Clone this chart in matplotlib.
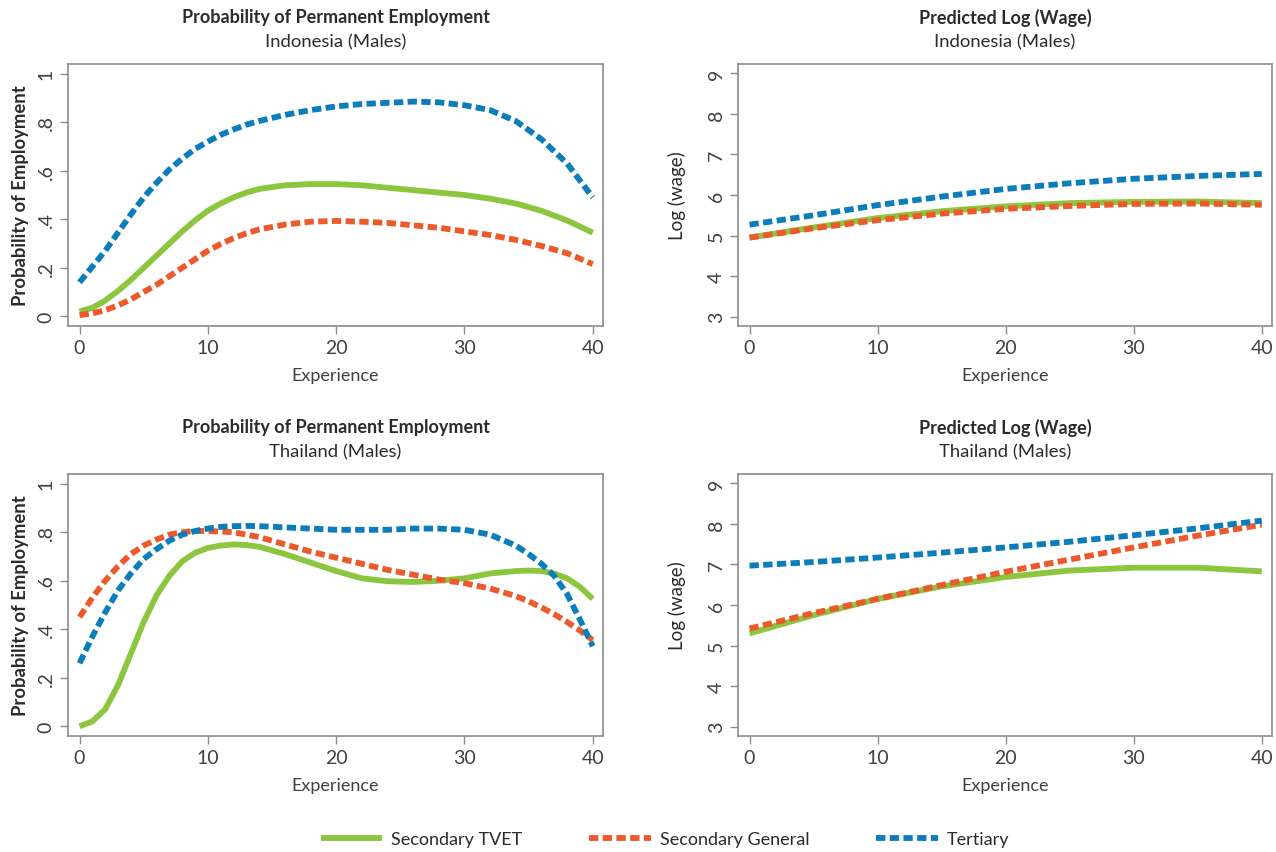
import numpy as np
import matplotlib.pyplot as plt

# ---- data ----
exp_id = [0, 1, 2, 3, 4, 5, 6, 7, 8, 9, 10, 11, 12, 13, 14, 16, 18, 20, 22, 24,
          26, 28, 30, 32, 34, 36, 38, 40]
id_prob_tvet = [0.02, 0.035, 0.065, 0.105, 0.15, 0.2, 0.25, 0.3, 0.35, 0.395, 0.435,
                0.465, 0.49, 0.51, 0.525, 0.54, 0.545, 0.545, 0.54, 0.53, 0.52,
                0.51, 0.50, 0.485, 0.465, 0.435, 0.395, 0.345]
id_prob_gen = [0.005, 0.012, 0.025, 0.045, 0.07, 0.1, 0.13, 0.165, 0.2, 0.235, 0.27,
               0.298, 0.322, 0.342, 0.358, 0.378, 0.39, 0.393, 0.39, 0.385, 0.375,
               0.365, 0.35, 0.335, 0.315, 0.29, 0.26, 0.215]
id_prob_ter = [0.14, 0.205, 0.27, 0.345, 0.42, 0.49, 0.55, 0.605, 0.65, 0.69, 0.72,
               0.748, 0.77, 0.79, 0.805, 0.83, 0.85, 0.865, 0.875, 0.88, 0.885,
               0.882, 0.87, 0.85, 0.805, 0.73, 0.63, 0.49]

exp_w = [0, 5, 10, 15, 20, 25, 30, 35, 40]
id_wage_tvet = [4.95, 5.2, 5.43, 5.6, 5.72, 5.8, 5.83, 5.84, 5.8]
id_wage_gen = [4.95, 5.18, 5.38, 5.54, 5.66, 5.73, 5.78, 5.79, 5.76]
id_wage_ter = [5.27, 5.5, 5.75, 5.96, 6.15, 6.29, 6.4, 6.47, 6.52]

exp_th = [0, 1, 2, 3, 4, 5, 6, 7, 8, 9, 10, 11, 12, 13, 14, 16, 18, 20, 22, 24, 26, 28,
          30, 32, 34, 35, 36, 37, 38, 39, 40]
th_prob_tvet = [0.0, 0.02, 0.07, 0.17, 0.30, 0.43, 0.54, 0.62, 0.68, 0.715, 0.735,
                0.745, 0.75, 0.747, 0.74, 0.71, 0.675, 0.64, 0.61, 0.598, 0.595, 0.60,
                0.61, 0.63, 0.64, 0.642, 0.64, 0.63, 0.61, 0.575, 0.525]
th_prob_gen = [0.45, 0.53, 0.60, 0.66, 0.71, 0.745, 0.77, 0.79, 0.80, 0.805, 0.805,
               0.803, 0.80, 0.79, 0.78, 0.75, 0.72, 0.695, 0.67, 0.645, 0.625, 0.605,
               0.59, 0.568, 0.537, 0.515, 0.49, 0.462, 0.43, 0.395, 0.355]
th_prob_ter = [0.26, 0.37, 0.47, 0.56, 0.63, 0.69, 0.73, 0.765, 0.79, 0.805, 0.815,
               0.822, 0.825, 0.826, 0.825, 0.82, 0.815, 0.81, 0.81, 0.81, 0.815, 0.815,
               0.81, 0.79, 0.745, 0.71, 0.67, 0.62, 0.545, 0.44, 0.33]

th_wage_tvet = [5.3, 5.75, 6.15, 6.46, 6.69, 6.85, 6.92, 6.92, 6.83]
th_wage_gen = [5.42, 5.8, 6.15, 6.49, 6.82, 7.12, 7.42, 7.71, 7.98]
th_wage_ter = [6.97, 7.06, 7.17, 7.29, 7.42, 7.56, 7.72, 7.89, 8.08]

prob_ticks = [0, 0.2, 0.4, 0.6, 0.8, 1]
prob_labels = ["0", ".2", ".4", ".6", ".8", "1"]
wage_ticks = [3, 4, 5, 6, 7, 8, 9]
exp_ticks = [0, 10, 20, 30, 40]

GREEN = "#8cc63f"
RED = "#ec5a2c"
BLUE = "#0a7dba"
GREY = "#8c8c8c"
TEXT = "#2b2b2b"

plt.rcParams["font.family"] = ["Lato", "DejaVu Sans"]

fig = plt.figure(figsize=(12.76, 8.53), dpi=100)

W, H = 1276, 853


def make_axes(left, top, right, bottom):
    return fig.add_axes([left / W, 1 - bottom / H, (right - left) / W, (bottom - top) / H])


def style(ax, title, sub, ylabel, label_x):
    for sp in ax.spines.values():
        sp.set_color(GREY)
        sp.set_linewidth(1.2)
    ax.set_xticks(exp_ticks)
    ax.set_xlim(-0.9, 40.8)
    ax.tick_params(color=GREY, length=6, width=1)
    ax.tick_params(labelsize=14, labelcolor="#404040")
    for lab in ax.get_yticklabels():
        lab.set_rotation(90)
        lab.set_va("center")
    ax.set_xlabel("Experience", fontsize=13, color="#404040", labelpad=8)
    ax.set_ylabel(ylabel, fontsize=13.3 if "Probability" in ylabel else 13.5, color=TEXT,
                  fontweight="bold" if "Probability" in ylabel else "normal")
    ax.yaxis.set_label_coords(label_x, 0.5)
    ax.annotate(title, xy=(0.5, 1), xycoords="axes fraction", xytext=(0, 34),
                textcoords="offset points", ha="center", va="center",
                fontsize=13, fontweight="bold", color=TEXT)
    ax.annotate(sub, xy=(0.5, 1), xycoords="axes fraction", xytext=(0, 16),
                textcoords="offset points", ha="center", va="center",
                fontsize=13.3, color=TEXT)


def draw(ax, x, tvet, gen, ter):
    lw = 4.2
    ax.plot(x, tvet, color=GREEN, lw=lw, solid_capstyle="butt", solid_joinstyle="round",
            label="Secondary TVET")
    ax.plot(x, gen, color=RED, lw=lw, dashes=(1.6, 0.75), label="Secondary General")
    ax.plot(x, ter, color=BLUE, lw=lw, dashes=(1.6, 0.75), label="Tertiary")


# top left
ax1 = make_axes(68, 65, 603, 327)
draw(ax1, exp_id, id_prob_tvet, id_prob_gen, id_prob_ter)
ax1.set_yticks(prob_ticks, prob_labels)
ax1.set_ylim(-0.04, 1.04)
style(ax1, "Probability of Permanent Employment", "Indonesia (Males)",
      "Probability of Employment", -0.072)

# top right
ax2 = make_axes(738, 65, 1272, 327)
draw(ax2, exp_w, id_wage_tvet, id_wage_gen, id_wage_ter)
ax2.set_yticks(wage_ticks)
ax2.set_ylim(2.77, 9.23)
style(ax2, "Predicted Log (Wage)", "Indonesia (Males)", "Log (wage)", -0.097)

# bottom left
ax3 = make_axes(68, 475, 603, 737)
draw(ax3, exp_th, th_prob_tvet, th_prob_gen, th_prob_ter)
ax3.set_yticks(prob_ticks, prob_labels)
ax3.set_ylim(-0.04, 1.04)
style(ax3, "Probability of Permanent Employment", "Thailand (Males)",
      "Probability of Employment", -0.072)

# bottom right
ax4 = make_axes(738, 475, 1272, 737)
draw(ax4, exp_w, th_wage_tvet, th_wage_gen, th_wage_ter)
ax4.set_yticks(wage_ticks)
ax4.set_ylim(2.77, 9.23)
style(ax4, "Predicted Log (Wage)", "Thailand (Males)", "Log (wage)", -0.097)

handles, labels = ax1.get_legend_handles_labels()
fig.legend(handles, labels, loc="center", bbox_to_anchor=(0.5 + 27 / W, 13 / H),
           ncol=3, frameon=False, fontsize=13, handlelength=3.4,
           columnspacing=3.7, handletextpad=0.5, labelcolor=TEXT)

fig.savefig("out.png", dpi=100)
